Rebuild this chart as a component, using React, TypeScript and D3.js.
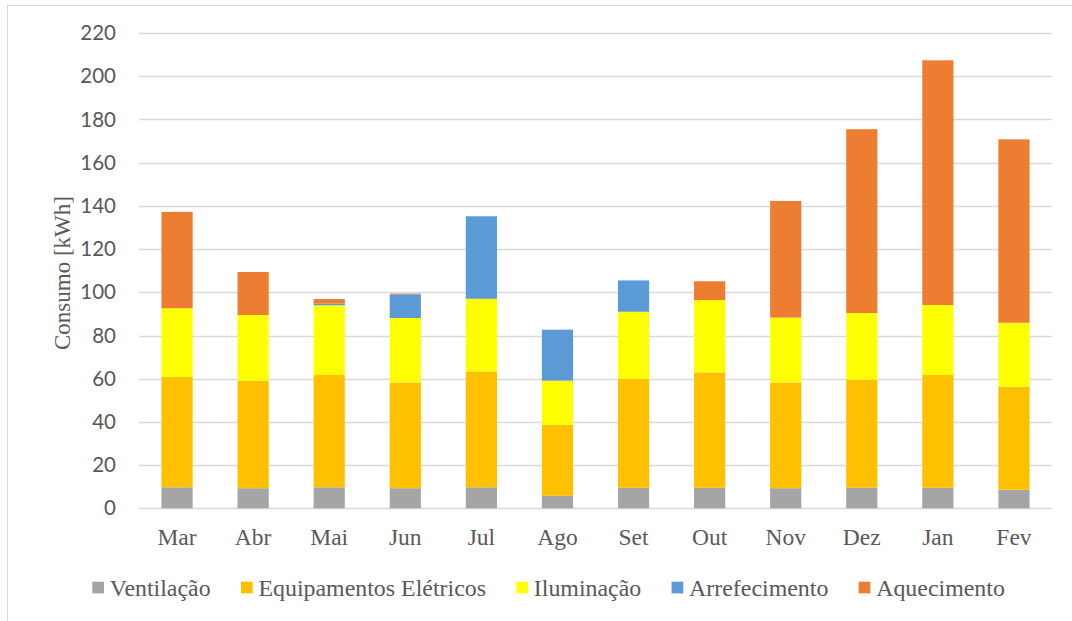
import React, { useEffect, useRef } from "react";
import * as d3 from "d3";

// Monthly energy consumption by end use (kWh)
const months = ["Mar", "Abr", "Mai", "Jun", "Jul", "Ago", "Set", "Out", "Nov", "Dez", "Jan", "Fev"];
const ventilacao = [9.7, 9.3, 9.7, 9.3, 9.7, 5.8, 9.5, 9.5, 9.3, 9.5, 9.5, 8.6];
const equipamentos = [51.1, 49.8, 52.0, 48.9, 53.7, 32.9, 50.4, 53.4, 48.9, 50.1, 52.2, 47.7];
const iluminacao = [31.8, 30.4, 32.3, 29.9, 33.6, 20.4, 31.1, 33.5, 30.1, 30.8, 32.4, 29.6];
const arrefecimento = [0, 0, 0.8, 11.0, 38.2, 23.6, 14.5, 0, 0, 0, 0, 0];
const aquecimento = [44.6, 19.9, 2.1, 0.3, 0, 0, 0, 8.7, 54.0, 85.1, 113.3, 84.9];

const seriesNames = ["Ventilação", "Equipamentos Elétricos", "Iluminação", "Arrefecimento", "Aquecimento"];
const seriesColors = ["#A5A5A5", "#FFC000", "#FFFF00", "#5B9BD5", "#ED7D31"];
const yTicks = [0, 20, 40, 60, 80, 100, 120, 140, 160, 180, 200, 220];

const W = 1072;
const H = 621;
const SERIF = "'Liberation Serif', 'Times New Roman', serif";

export default function App() {
  const ref = useRef<SVGSVGElement | null>(null);

  useEffect(() => {
    const svg = d3.select(ref.current);
    svg.selectAll("*").remove();

    const rows = months.map((m, i) => ({
      month: m,
      s0: ventilacao[i],
      s1: equipamentos[i],
      s2: iluminacao[i],
      s3: arrefecimento[i],
      s4: aquecimento[i],
    }));
    const keys = ["s0", "s1", "s2", "s3", "s4"];
    const stacked = d3.stack<any>().keys(keys)(rows);

    const x = d3.scaleBand<string>().domain(months).range([139, 1052]).paddingInner(0.59).paddingOuter(0.295);
    const y = d3.scaleLinear().domain([0, 220]).range([508.3, 33.1]);

    // outer frame
    svg.append("rect")
      .attr("x", 7.5).attr("y", 5.5)
      .attr("width", 1080).attr("height", 640)
      .attr("fill", "#fff").attr("stroke", "#D9D9D9").attr("stroke-width", 1);

    // gridlines
    svg.append("g").selectAll("line").data(yTicks).join("line")
      .attr("x1", 139).attr("x2", 1052)
      .attr("y1", (d) => Math.round(y(d)) + 0.5).attr("y2", (d) => Math.round(y(d)) + 0.5)
      .attr("stroke", "#D9D9D9").attr("stroke-width", 1.3);

    // y tick labels
    svg.append("g").selectAll("text").data(yTicks).join("text")
      .attr("x", 116).attr("y", (d) => y(d))
      .attr("dy", "0.35em")
      .attr("text-anchor", "end")
      .attr("font-family", "Lato, 'Open Sans', sans-serif")
      .attr("font-size", 20.5)
      .attr("fill", "#595959")
      .text((d) => String(d));

    // stacked bars
    svg.append("g").selectAll("g").data(stacked).join("g")
      .attr("fill", (_, i) => seriesColors[i])
      .selectAll("rect").data((d) => d).join("rect")
      .attr("x", (d: any) => x(d.data.month)!)
      .attr("width", x.bandwidth())
      .attr("y", (d: any) => y(d[1]))
      .attr("height", (d: any) => Math.max(0, y(d[0]) - y(d[1])));

    // x labels
    svg.append("g").selectAll("text").data(months).join("text")
      .attr("x", (d) => x(d)! + x.bandwidth() / 2)
      .attr("y", 545)
      .attr("text-anchor", "middle")
      .attr("font-family", SERIF)
      .attr("font-size", 23.5)
      .attr("fill", "#595959")
      .text((d) => d);

    // y axis title
    svg.append("text")
      .attr("transform", "translate(70,273) rotate(-90)")
      .attr("text-anchor", "middle")
      .attr("font-family", SERIF)
      .attr("font-size", 23)
      .attr("fill", "#595959")
      .text("Consumo [kWh]");

    // legend
    const lg = svg.append("g");
    let lx = 92.3;
    seriesNames.forEach((name, i) => {
      lg.append("rect")
        .attr("x", lx).attr("y", 581.7)
        .attr("width", 11.7).attr("height", 11.7)
        .attr("fill", seriesColors[i]);
      const t = lg.append("text")
        .attr("x", lx + 17.5).attr("y", 596)
        .attr("font-family", SERIF)
        .attr("font-size", 23.9)
        .attr("fill", "#595959")
        .text(name);
      const w = (t.node() as SVGTextElement).getComputedTextLength();
      lx = lx + 17.5 + w + 30.3;
    });
  }, []);

  return (
    <svg
      ref={ref}
      width={W}
      height={H}
      style={{ position: "absolute", left: 0, top: 0, background: "#fff" }}
    />
  );
}
